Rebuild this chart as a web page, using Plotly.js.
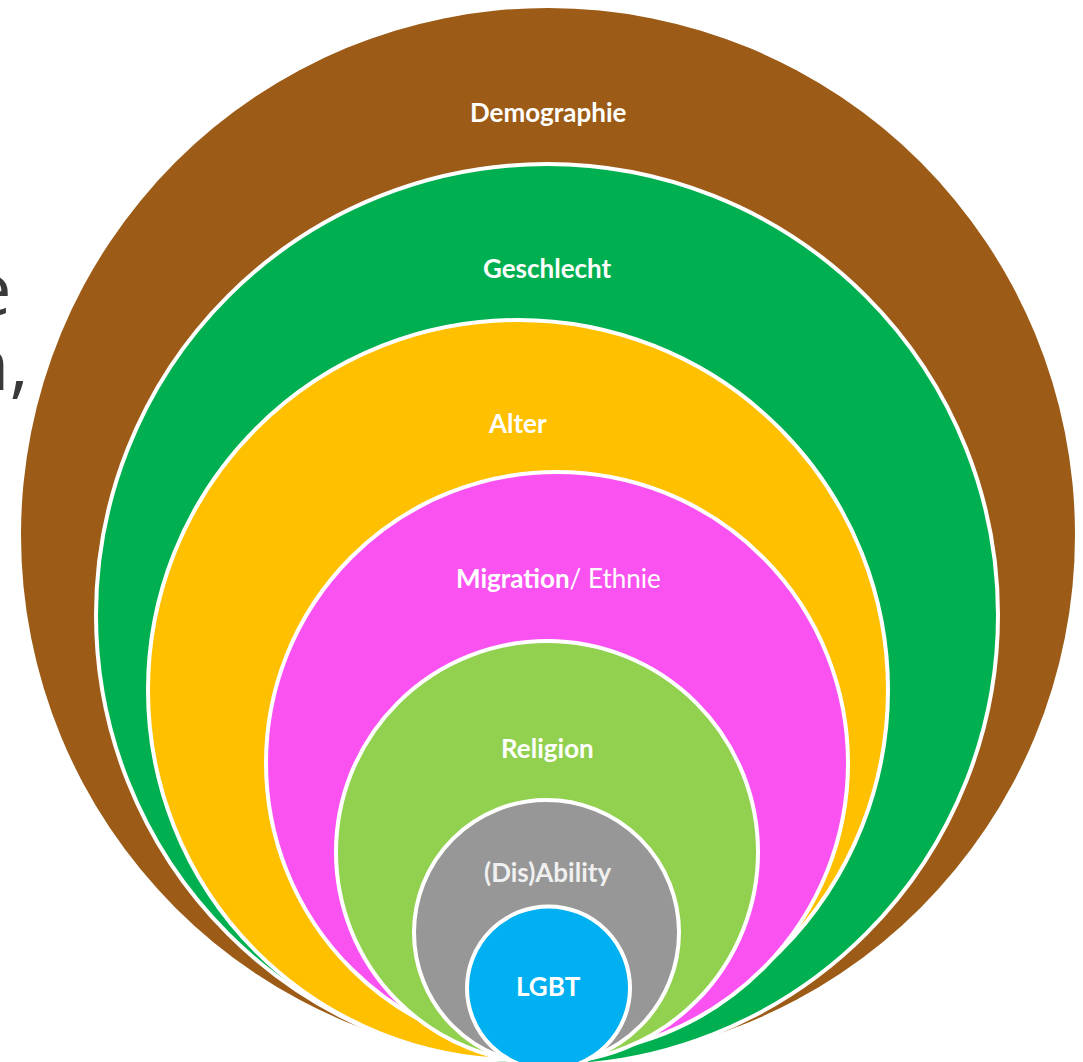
<!DOCTYPE html>
<html>
<head>
<meta charset="utf-8">
<script src="https://cdn.plot.ly/plotly-3.0.1.min.js"></script>
<style>
  html, body { margin: 0; padding: 0; background: #ffffff; }
  #chart { width: 1083px; height: 1062px; }
</style>
</head>
<body>
<div id="chart"></div>
<script>
// Nested circles (outer to inner)
const categories = ["Demographie", "Geschlecht", "Alter", "Migration/ Ethnie", "Religion", "(Dis)Ability", "LGBT"];
const labelsHtml = ["<b>Demographie</b>", "<b>Geschlecht</b>", "<b>Alter</b>", "<b>Migration</b>/ Ethnie", "<b>Religion</b>", "<b>(Dis)Ability</b>", "<b>LGBT</b>"];
const centerX = [548, 547, 518, 557, 547, 546.5, 548.5];
const centerY = [535, 615, 690, 763, 852, 932.5, 988];
const radius  = [527, 451, 370, 291, 211, 132.5, 81.5];
const colors  = ["#9C5B16", "#00B050", "#FFC000", "#FA52F0", "#92D050", "#979797", "#00B0F0"];
const labelX  = [548, 547, 517, 558, 547, 547, 548];
const labelY  = [112, 268, 423, 578, 748, 872, 986];
const labelColors = ["#ffffff", "#ffffff", "#ffffff", "#ffffff", "#ffffff", "#f0f0f0", "#ffffff"];

// Partial slide text cut at left edge
const sideText = ["e", "n,"];
const sideX = [14, 31];
const sideY = [286, 361];

const shapes = categories.map((c, i) => ({
  type: "circle",
  xref: "x", yref: "y",
  x0: centerX[i] - radius[i], x1: centerX[i] + radius[i],
  y0: centerY[i] - radius[i], y1: centerY[i] + radius[i],
  fillcolor: colors[i],
  line: { color: "#ffffff", width: i === 0 ? 0 : 4 },
  layer: "above"
}));

const annotations = categories.map((c, i) => ({
  x: labelX[i], y: labelY[i], xref: "x", yref: "y",
  text: labelsHtml[i], showarrow: false,
  xanchor: "center", yanchor: "middle",
  font: { family: "Lato, 'Open Sans', sans-serif", size: 26, color: labelColors[i] }
})).concat(sideText.map((t, i) => ({
  x: sideX[i], y: sideY[i], xref: "x", yref: "y",
  text: t, showarrow: false, xanchor: "right", yanchor: "middle",
  font: { family: "'Open Sans', sans-serif", size: 74, color: "#3a3a3a" }
})));

const data = [{
  x: centerX, y: centerY, type: "scatter", mode: "markers",
  marker: { size: 1, opacity: 0 }, hoverinfo: "skip", showlegend: false
}];

const layout = {
  width: 1083, height: 1062,
  margin: { l: 0, r: 0, t: 0, b: 0 },
  paper_bgcolor: "#ffffff", plot_bgcolor: "#ffffff",
  xaxis: { range: [0, 1083], visible: false, fixedrange: true },
  yaxis: { range: [1062, 0], visible: false, fixedrange: true },
  shapes: shapes,
  annotations: annotations,
  showlegend: false
};

Plotly.newPlot("chart", data, layout, { staticPlot: true, displayModeBar: false });
</script>
</body>
</html>
